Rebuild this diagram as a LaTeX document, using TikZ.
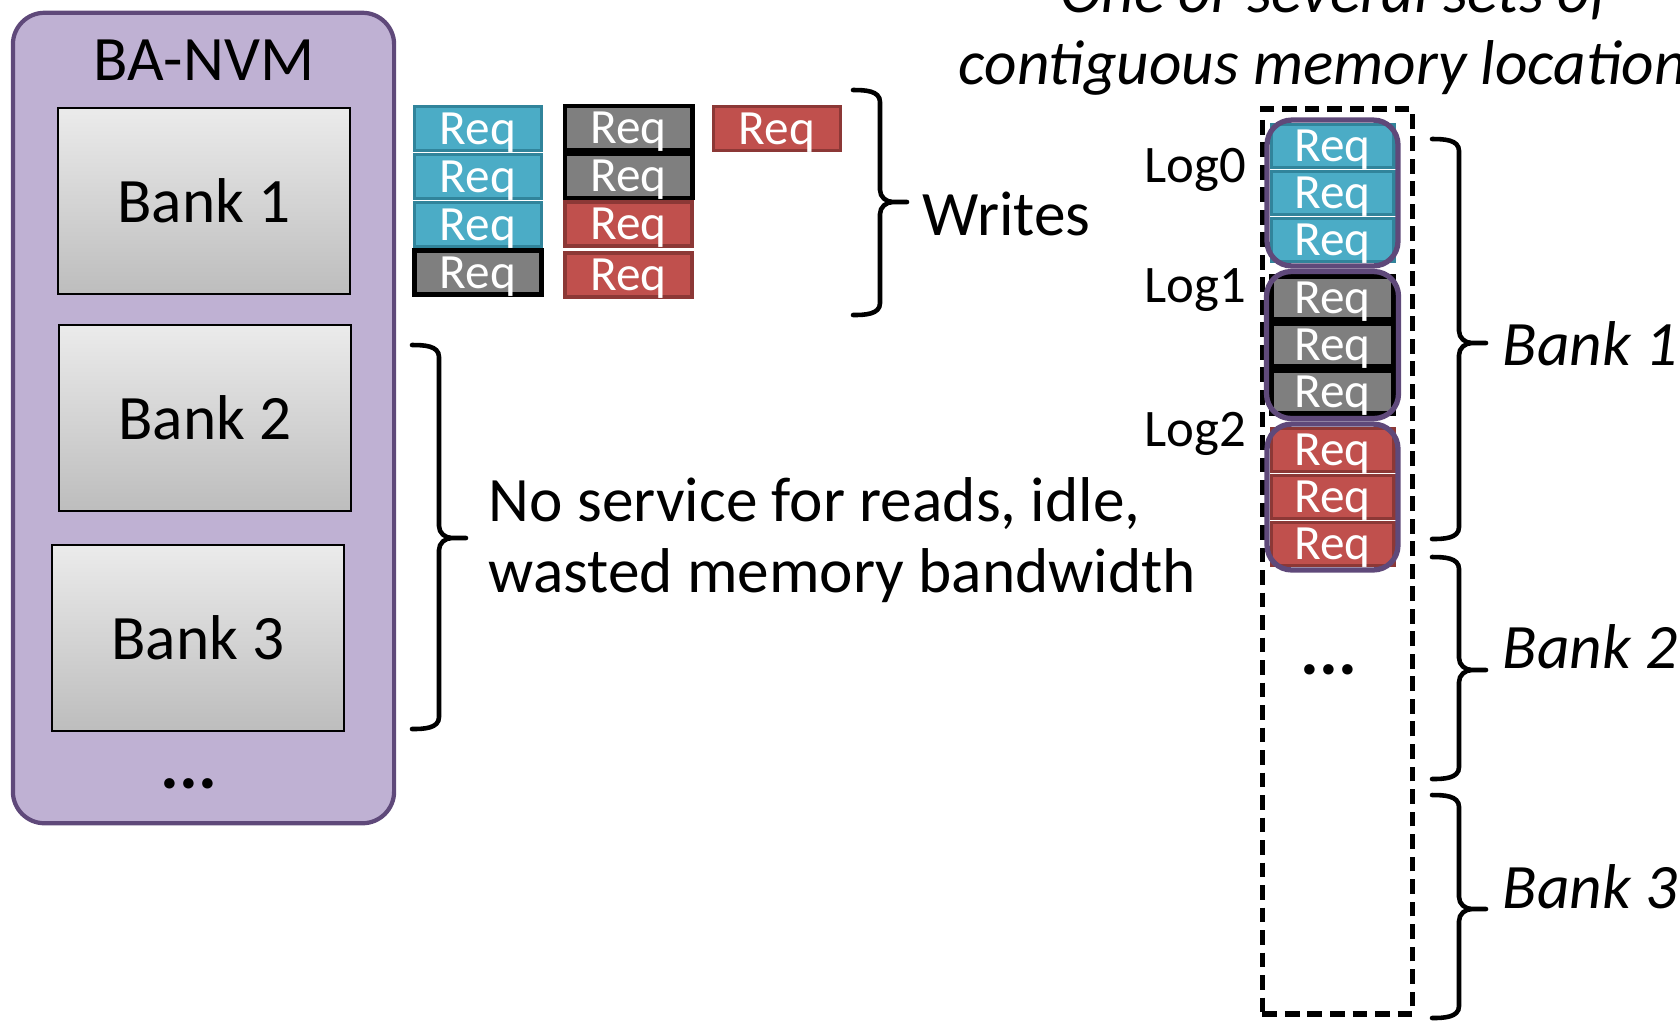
\documentclass[tikz,border=0pt]{standalone}
\usepackage{fontspec}
\setmainfont{Carlito}
\usetikzlibrary{fit}
\definecolor{nvm-fill}{HTML}{BFB1D3}
\definecolor{nvm-border}{HTML}{5F497A}
\definecolor{bank-top}{HTML}{EBEBEB}
\definecolor{bank-bottom}{HTML}{BDBDBD}
\definecolor{req-blue}{HTML}{4BACC6}
\definecolor{req-blue-dark}{HTML}{31849B}
\definecolor{req-gray}{HTML}{7F7F7F}
\definecolor{req-red}{HTML}{C0504D}
\definecolor{req-red-dark}{HTML}{8C3836}

% name, x, top, bottom, tip
\newcommand{\drawbrace}[5]{%
  \coordinate (#1-top) at (#2,#3);
  \coordinate (#1-bot) at (#2,#4);
  \coordinate (#1-tip) at (#2+54,#5);
  \draw[brace line] (#1-top) to[out=0,in=90] ++(27,12) -- (#2+27,#5-12)
    to[out=-90,in=180] (#2+40,#5) -- (#1-tip)
    (#2+40,#5) to[out=180,in=90] (#2+27,#5+12) -- (#2+27,#4-12)
    to[out=-90,in=0] (#1-bot);
}

\begin{document}
\begin{tikzpicture}[x=0.01cm, y=-0.01cm, font=\fontsize{18}{20}\selectfont,
    text only/.style={inner sep=0pt, align=left},
    req/.style={draw, line width=1.1pt, inner sep=0pt, minimum width=1.27cm,
      minimum height=0.44cm, text depth=0pt, text=white, font=\fontsize{14}{16}\selectfont},
    req blue/.style={req, fill=req-blue, draw=req-blue-dark},
    req gray/.style={req, fill=req-gray, draw=black, line width=1.4pt},
    req red/.style={req, fill=req-red, draw=req-red-dark},
    log req/.style={minimum width=1.22cm, minimum height=0.43cm},
    bank box/.style={draw=black, line width=0.6pt, top color=bank-top,
      bottom color=bank-bottom, minimum width=2.92cm, minimum height=1.86cm},
    log group/.style={draw=nvm-border, line width=1.5pt, rounded corners=7pt, inner sep=0.025cm},
    brace line/.style={line width=1.3pt, line cap=round}]
\useasboundingbox (0,0) rectangle (1680,1020);
\clip (0,0) rectangle (1680,1020);

% BA-NVM and its banks
\node[draw=nvm-border, fill=nvm-fill, line width=1.2pt, rounded corners=9pt,
  minimum width=3.81cm, minimum height=8.1cm]
  (nvm)
  at (203.5, 418) {};
\node[text only] (nvm-title) at (204, 60) {BA-NVM};
\foreach \i/\cx/\cy in {1/204/201, 2/205/418, 3/198/638} {
  \node[bank box] (bank\i) at (\cx, \cy) {Bank \i};
}
\node[text only, font=\fontsize{20}{20}\selectfont\bfseries] (nvm-more) at (189, 784) {...};

% queued writes
\foreach \name/\x/\y/\kind in {
    w-1-1/478/128.5/blue, w-1-2/478/176.5/blue, w-1-3/478/224.5/blue, w-1-4/478/272.5/gray,
    w-2-1/628.5/128/gray, w-2-2/628.5/176/gray, w-2-3/628.5/224/red, w-2-4/628.5/275/red,
    w-3-1/777/128.5/red} {
  \node[req \kind] (\name) at (\x, \y) {Req};
}
\drawbrace{writes-brace}{853}{90}{315}{202}
\node[text only, anchor=base west] (writes) at (922, 235) {Writes};
\drawbrace{idle-brace}{412}{345}{729}{538}
\node[text only, anchor=base west]
  (idle)
  at (488, 592)
  {No service for reads, idle,\\wasted memory bandwidth};

% logs in contiguous locations
\node[text only, anchor=base, align=center, font=\fontsize{18}{20.2}\selectfont\itshape]
  (contig)
  at (1335, 84)
  {One or several sets of\\contiguous memory locations};
\node[draw, line width=1.6pt, dash pattern=on 4.2pt off 2.2pt,
  minimum width=1.5cm, minimum height=9.04cm]
  (cmem)
  at (1337.5, 561.5) {};
\foreach \g/\kind in {0/blue, 1/gray, 2/red} {
  \foreach \k in {1,2,3} {
    \node[req \kind, log req] (r-\g-\k) at (1332.5, {146+152*\g+47*(\k-1)}) {Req};
  }
  \node[log group, fit=(r-\g-1)(r-\g-3)] (log\g) {};
}
\foreach \g/\y in {0/182, 1/302, 2/446} {
  \node[text only, anchor=base east, font=\fontsize{15}{15}\selectfont] (log\g-label) at (1247, \y) {Log\g};
}
\node[text only, font=\fontsize{20}{20}\selectfont\bfseries] (cmem-more) at (1329, 670) {...};
\foreach \i/\ytop/\ybot/\ytip/\ybase in {1/139/539/343/365, 2/557/779/670/668, 3/795/1018/909/908} {
  \drawbrace{bank\i-brace}{1432}{\ytop}{\ybot}{\ytip}
  \node[text only, anchor=base west, font=\fontsize{18}{20}\selectfont\itshape]
    (bank\i-label)
    at (1502, \ybase)
    {Bank \i};
}
\end{tikzpicture}
\end{document}
